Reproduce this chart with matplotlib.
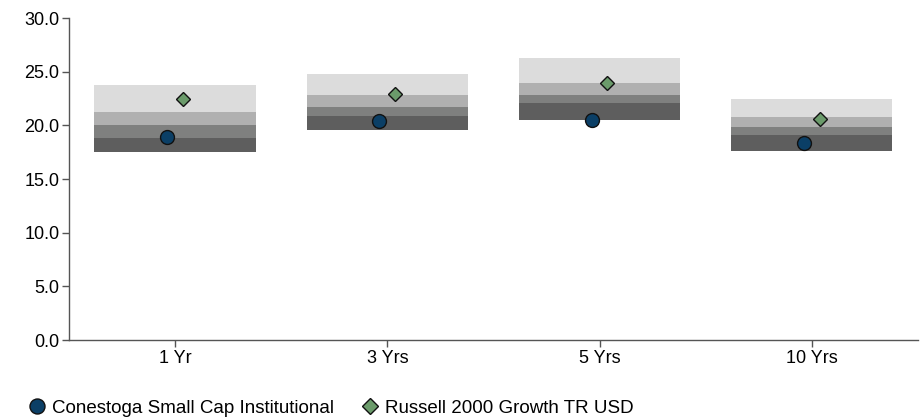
import matplotlib
matplotlib.use("Agg")
import matplotlib.pyplot as plt
from matplotlib.lines import Line2D
import numpy as np

plt.rcParams['font.family'] = ['Liberation Sans', 'DejaVu Sans']

categories = ['1 Yr', '3 Yrs', '5 Yrs', '10 Yrs']
# percentile band edges: 95th, 75th, 50th, 25th, 5th (bottom to top)
p95 = [17.5, 19.6, 20.5, 17.65]
p75 = [18.8, 20.9, 22.1, 19.1]
p50 = [20.05, 21.75, 22.85, 19.8]
p25 = [21.2, 22.85, 23.9, 20.75]
p5 = [23.8, 24.8, 26.25, 22.45]
fund = [18.9, 20.45, 20.5, 18.35]
bench = [22.45, 22.95, 23.95, 20.6]

band_colors = ['#5e5e5e', '#7f807f', '#b0b0b0', '#dcdcdc']
fund_color = '#0b3f66'
bench_color = '#6b9b6b'

fig = plt.figure(figsize=(9.21, 4.19), dpi=100)
ax = fig.add_axes([0.0749, 0.1885, 0.9218, 0.7685])

x = np.arange(len(categories))
edges = [p95, p75, p50, p25, p5]
for i in range(4):
    lo = np.array(edges[i])
    hi = np.array(edges[i + 1])
    ax.bar(x, hi - lo, bottom=lo, width=0.76, color=band_colors[i], linewidth=0)

ax.plot(x - 0.037, fund, 'o', ms=10, mfc=fund_color, mec='#111111', mew=1, ls='none')
ax.plot(x + 0.037, bench, 'D', ms=7.2, mfc=bench_color, mec='#111111', mew=1, ls='none')

ax.set_xlim(-0.5, 3.5)
ax.set_ylim(0, 30)
ax.set_yticks(np.arange(0, 31, 5))
ax.set_yticklabels([f'{v:.1f}' for v in np.arange(0, 31, 5)])
ax.set_xticks(x)
ax.set_xticklabels(categories)
for s in ['top', 'right']:
    ax.spines[s].set_visible(False)
for s in ['left', 'bottom']:
    ax.spines[s].set_color('#555555')
    ax.spines[s].set_linewidth(1)
ax.tick_params(axis='both', labelsize=13, color='#555555', length=5, width=1, pad=2)

handles = [
    Line2D([], [], marker='o', ls='none', ms=10.8, mfc=fund_color, mec='#111111', mew=1),
    Line2D([], [], marker='D', ls='none', ms=8.3, mfc=bench_color, mec='#111111', mew=1),
]
fig.legend(handles, ['Conestoga Small Cap Institutional', 'Russell 2000 Growth TR USD'],
           loc='center left', bbox_to_anchor=(29.5 / 921, 1 - 408 / 419), ncol=2, frameon=False,
           fontsize=13.5, handletextpad=0.4, columnspacing=1.52, handlelength=0.8,
           borderpad=0, borderaxespad=0)

fig.savefig('out.png', dpi=100)
